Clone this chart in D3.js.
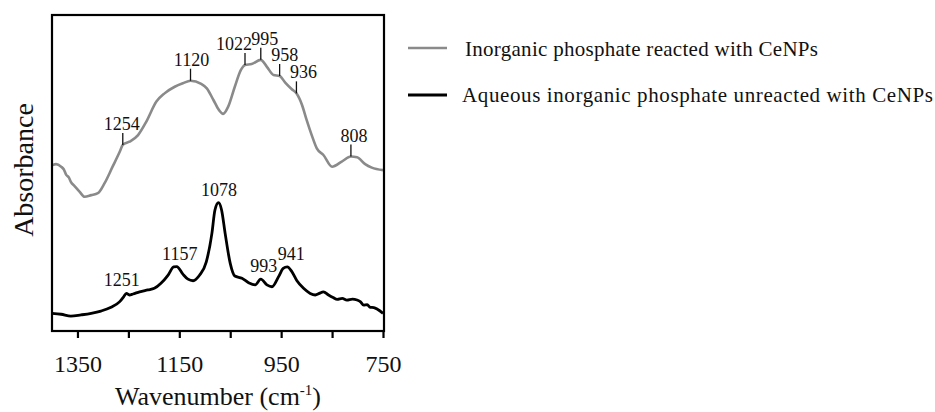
<!DOCTYPE html>
<html>
<head>
<meta charset="utf-8">
<script src="https://cdn.jsdelivr.net/npm/d3@7"></script>
<style>
  html, body { margin: 0; padding: 0; background: #fff; }
  svg { display: block; font-family: "Liberation Serif", "Times New Roman", serif; }
</style>
</head>
<body>
<svg id="chart" width="935" height="412"></svg>
<script>
// ---------- DATA ----------
const seriesNames = [
  "Inorganic phosphate reacted with CeNPs",
  "Aqueous inorganic phosphate unreacted with CeNPs"
];

const xTickValues = [1350, 1250, 1150, 1050, 950, 850, 750];
const xTickLabels = ["1350", "", "1150", "", "950", "", "750"];

// Reacted (grey) spectrum: wavenumber (cm-1) and absorbance (a.u.)
const reactedWavenumber = [1399, 1392, 1382, 1377, 1372, 1367, 1363, 1356, 1346, 1336, 1323, 1310, 1297, 1281, 1267, 1261, 1248, 1231, 1215, 1195, 1179, 1159, 1143, 1128, 1107, 1096, 1083, 1072, 1064, 1054, 1041, 1029, 1021, 1008, 990, 978, 965, 953, 942, 929, 920, 909, 900, 890, 880, 867, 850, 831, 813, 801, 785, 772, 750];
const reactedAbsorbance  = [52.5, 52.8, 52.0, 51.2, 49.4, 48.6, 47.2, 45.9, 44.1, 42.5, 43.0, 43.6, 46.7, 52.0, 56.7, 58.9, 59.9, 62.0, 66.2, 72.6, 75.2, 77.3, 78.4, 79.2, 78.2, 76.8, 73.1, 69.9, 68.7, 71.0, 77.3, 82.6, 84.2, 84.5, 85.8, 83.6, 81.0, 80.7, 78.6, 76.5, 75.2, 71.5, 66.8, 62.0, 57.8, 55.7, 52.0, 53.6, 55.2, 55.0, 52.8, 51.7, 50.9];

// Unreacted (black) spectrum
const unreactedWavenumber = [1400, 1382, 1363, 1343, 1323, 1304, 1284, 1267, 1259, 1254, 1248, 1241, 1228, 1212, 1199, 1186, 1172, 1161, 1155, 1143, 1133, 1123, 1110, 1097, 1086, 1080, 1073, 1067, 1060, 1050, 1041, 1027, 1014, 1001, 990, 978, 968, 955, 946, 938, 929, 919, 906, 893, 883, 875, 867, 857, 848, 840, 830, 821, 810, 801, 794, 788, 781, 775, 768, 761, 750];
const unreactedAbsorbance  = [5.6, 5.3, 4.7, 5.1, 5.6, 6.3, 7.5, 9.3, 10.9, 11.9, 11.4, 11.7, 12.4, 13.0, 13.5, 15.1, 17.7, 20.3, 20.4, 18.0, 16.4, 15.9, 17.7, 21.9, 30.9, 38.3, 40.6, 38.3, 30.9, 21.4, 17.4, 16.7, 15.3, 14.6, 16.4, 14.6, 14.0, 17.2, 19.8, 20.3, 18.8, 15.9, 13.5, 11.9, 11.4, 11.9, 12.4, 11.4, 10.6, 10.0, 10.3, 9.8, 10.1, 9.8, 9.2, 8.2, 8.3, 7.5, 7.4, 6.9, 5.6];

// Peak annotations (label text, and where the mark sits on the spectrum)
const reactedPeakLabels = ["1254", "1120", "1022", "995", "958", "936", "808"];
const reactedPeakAt     = [1261, 1128, 1021, 990, 953, 920, 813];
const unreactedPeakLabels = ["1251", "1157", "1078", "993", "941"];
const unreactedPeakAt     = [1254, 1155, 1073, 990, 938];

// ---------- LAYOUT ----------
const svg = d3.select("#chart");
const plot = { left: 52, right: 383, top: 15, bottom: 331 };

const x = d3.scaleLinear().domain([1400, 750]).range([plot.left, plot.right]);
const y = d3.scaleLinear().domain([0, 100]).range([plot.bottom, plot.top]);

const colors = ["#8a8a8a", "#000000"];

function interp(ws, vs, w) {
  for (let i = 0; i < ws.length - 1; i++) {
    const a = ws[i], b = ws[i + 1];
    if ((w <= a && w >= b) || (w >= a && w <= b)) {
      const t = (w - a) / (b - a);
      return vs[i] + t * (vs[i + 1] - vs[i]);
    }
  }
  return vs[vs.length - 1];
}

const line = d3.line()
  .x(d => x(d[0]))
  .y(d => y(d[1]))
  .curve(d3.curveMonotoneX);

const reacted = reactedWavenumber.map((w, i) => [w, reactedAbsorbance[i]]);
const unreacted = unreactedWavenumber.map((w, i) => [w, unreactedAbsorbance[i]]);

// x axis (ticks)
const xAxis = d3.axisBottom(x)
  .tickValues(xTickValues)
  .tickSize(7)
  .tickPadding(8)
  .tickFormat((d, i) => xTickLabels[i]);

const gx = svg.append("g")
  .attr("transform", `translate(0,${plot.bottom})`)
  .call(xAxis);
gx.select(".domain").remove();
gx.selectAll(".tick line").attr("stroke", "#000").attr("stroke-width", 2.2);
gx.selectAll(".tick text")
  .attr("fill", "#111")
  .style("font-family", '"Liberation Serif", serif')
  .style("font-size", "24px")
  .attr("y", 41)
  .attr("dy", 0);

// curves
svg.append("path").datum(reacted)
  .attr("fill", "none").attr("stroke", colors[0]).attr("stroke-width", 2.6)
  .attr("stroke-linejoin", "round").attr("d", line);
svg.append("path").datum(unreacted)
  .attr("fill", "none").attr("stroke", colors[1]).attr("stroke-width", 2.8)
  .attr("stroke-linejoin", "round").attr("d", line);

// frame
svg.append("rect")
  .attr("x", plot.left).attr("y", plot.top)
  .attr("width", plot.right - plot.left + 1).attr("height", plot.bottom - plot.top)
  .attr("fill", "none").attr("stroke", "#000").attr("stroke-width", 2.2);

// reacted annotations: vertical marker + label
const reactedDx = [-1, 1, -11, 4, 5, 7, 3];
reactedPeakLabels.forEach((lab, i) => {
  const w = reactedPeakAt[i];
  const px = x(w);
  const py = y(interp(reactedWavenumber, reactedAbsorbance, w));
  svg.append("line")
    .attr("x1", px).attr("x2", px)
    .attr("y1", py).attr("y2", py - 12)
    .attr("stroke", "#111").attr("stroke-width", 1.3);
  svg.append("text")
    .attr("x", px + reactedDx[i]).attr("y", py - 15)
    .attr("text-anchor", "middle")
    .style("font-size", "18px").attr("fill", "#111")
    .text(lab);
});

// unreacted annotations: label only
const unreactedDx = [-4.5, 3, 0.5, 3, 4];
unreactedPeakLabels.forEach((lab, i) => {
  const w = unreactedPeakAt[i];
  const px = x(w);
  const py = y(interp(unreactedWavenumber, unreactedAbsorbance, w));
  svg.append("text")
    .attr("x", px + unreactedDx[i]).attr("y", py - 7)
    .attr("text-anchor", "middle")
    .style("font-size", "18px").attr("fill", "#111")
    .text(lab);
});

// axis titles
const xt = svg.append("text")
  .attr("x", 218).attr("y", 405)
  .attr("text-anchor", "middle")
  .style("font-size", "26px").attr("fill", "#111");
xt.append("tspan").text("Wavenumber (cm");
xt.append("tspan").attr("dy", -10).style("font-size", "15px").text("-1");
xt.append("tspan").attr("dy", 10).text(")");

svg.append("text")
  .attr("transform", "translate(33,170) rotate(-90)")
  .attr("text-anchor", "middle")
  .style("font-size", "28px").attr("fill", "#111")
  .text("Absorbance");

// legend
const legendRows = [
  { lineY: 48, textX: 465, textY: 56, len: 353 },
  { lineY: 95, textX: 462, textY: 102, len: 471 }
];
seriesNames.forEach((name, i) => {
  const r = legendRows[i];
  svg.append("line")
    .attr("x1", 408).attr("x2", 447)
    .attr("y1", r.lineY).attr("y2", r.lineY)
    .attr("stroke", colors[i]).attr("stroke-width", i === 0 ? 2.4 : 2.8);
  svg.append("text")
    .attr("x", r.textX).attr("y", r.textY)
    .attr("textLength", r.len).attr("lengthAdjust", "spacing")
    .style("font-size", "21px").attr("fill", "#111")
    .text(name);
});
</script>
</body>
</html>
